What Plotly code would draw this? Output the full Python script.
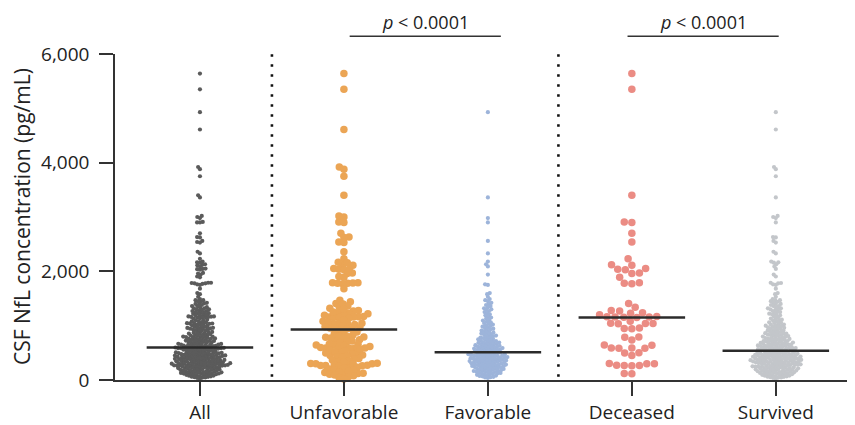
import math
import plotly.graph_objects as go

# ---------------- data (pg/mL) ----------------
categories = ["All", "Unfavorable", "Favorable", "Deceased", "Survived"]
medians = [600, 930, 509, 1150, 540]

# unfavorable outcome, deceased
deceased = [5640, 5350, 3400, 2910, 2900, 2700, 2540,
            2230, 2120, 2110, 2050, 2040, 2030, 1970, 1960, 1890, 1790, 1780, 1770,
            1410, 1340, 1280, 1270, 1240, 1230, 1200,
            1170, 1165, 1160, 1160, 1155, 1150,
            1080, 1045, 1040, 1040, 1035, 955, 950, 945,
            790, 785, 735, 645, 640, 590, 590, 585, 585, 500, 495, 450,
            305, 300, 300, 270, 265, 265, 260, 120, 115]

# unfavorable outcome, survived
unfav_survived = [4610, 3920, 3880, 3750, 3020, 3000, 2630, 2625, 2530, 2360,
                  2165, 2160, 2045, 1905, 1790, 1785, 1780, 1680,
                  1470, 1440, 1400, 1360, 1320, 1300, 1250, 1220, 1190, 1130,
                  1100, 1060, 1020, 1000, 980, 960, 940,
                  912, 884, 861, 853, 828, 815, 797, 772, 766, 741,
                  718, 705, 688, 664, 652, 633, 618, 597, 584, 566,
                  549, 536, 512, 497, 483, 462, 447, 428, 414, 398,
                  386, 367, 355, 341, 326, 309, 294, 281, 263, 248,
                  233, 219, 204, 188, 176, 161, 149, 138, 122, 104,
                  93, 78, 62, 45, 20]

# favorable outcome (all survived)
favorable = [4930, 3360, 2980, 2900, 2560, 2330, 2180, 2130, 2090, 1940,
             1760, 1750, 1600, 1580, 1530,
             1490, 1470, 1450, 1420, 1400, 1380, 1360, 1340, 1320, 1300,
             1290, 1270, 1250, 1230, 1210, 1190, 1170, 1150, 1130, 1110,
             1095, 1080, 1062, 1048, 1035, 1020, 1008, 995, 982, 970,
             958, 945, 933, 920, 910, 898, 887, 875, 866, 855,
             846, 838, 826, 817, 808, 799, 790, 781, 772, 764,
             756, 748, 740, 732, 725, 718, 711, 704, 697, 690,
             684, 677, 671, 665, 659, 653, 647, 641, 636, 630,
             625, 619, 614, 608, 603, 598, 593, 588, 583, 578,
             573, 568, 563, 558, 554, 549, 545, 540, 535, 528, 521, 514,
             507, 503, 498, 496, 491, 487, 482, 476, 474, 468, 463, 461, 457, 452, 451,
             448, 443, 441, 436, 431, 428, 422, 419, 414, 411, 406, 403, 401,
             398, 394, 389, 385, 383, 377, 372, 369, 364, 360, 357, 353, 351,
             348, 344, 341, 336, 332, 328, 325, 319, 316, 311, 308, 304, 301,
             297, 293, 288, 283, 279, 276, 270, 266, 262, 258, 255, 251,
             247, 243, 238, 233, 229, 224, 219, 214, 210, 206, 202,
             196, 191, 187, 181, 176, 172, 166, 161, 157, 152,
             147, 141, 136, 130, 124, 118, 113, 107, 102,
             96, 89, 82, 74, 67, 59, 52, 46, 38]

unfavorable = deceased + unfav_survived
survived = unfav_survived + favorable
all_pts = deceased + unfav_survived + favorable
groups = [all_pts, unfavorable, favorable, deceased, survived]

colors = ["#5b5b5b", "#eba555", "#9db4da", "#eb8c84", "#c3c6ca"]
sizes = [4.2, 7.5, 4.2, 7.5, 4.2]
spacing = [2.85, 5.1, 2.85, 7.6, 2.85]

# ---------------- geometry (page body has an 8px margin) ----------------
W, H = 847, 417
ML, MR, MT, MB = 107, 0, 46, 41
PLOT_W = W - ML - MR
PLOT_H = H - MT - MB
YMAX = 6000
PX_PER_Y = PLOT_H / YMAX
XR = [-0.59, 4.55]
PX_PER_X = PLOT_W / (XR[1] - XR[0])


def xpaper(xv):
    return (xv - XR[0]) / (XR[1] - XR[0])


def swarm(vals, d):
    ys = [v * PX_PER_Y for v in vals]
    order = sorted(range(len(vals)), key=lambda i: ys[i])
    placed = []
    xs = [0.0] * len(vals)
    for i in order:
        y = ys[i]
        nb = [(px, py) for px, py in placed if abs(py - y) < d]
        cands = [0.0]
        for px, py in nb:
            dx = math.sqrt(max(d * d - (py - y) ** 2, 0))
            cands += [px + dx, px - dx]
        cands.sort(key=lambda c: (round(abs(c), 6), c))
        for c in cands:
            if all((c - px) ** 2 + (y - py) ** 2 >= d * d - 1e-6 for px, py in nb):
                xs[i] = c
                break
        placed.append((xs[i], y))
    return [x / PX_PER_X for x in xs]


fig = go.Figure()
for k, vals in enumerate(groups):
    offs = swarm(vals, spacing[k])
    fig.add_trace(go.Scatter(
        x=[k + o for o in offs], y=vals, mode="markers",
        marker=dict(size=sizes[k], color=colors[k], line=dict(width=0)),
        cliponaxis=False, showlegend=False, hoverinfo="y"))

half = 0.37
for k, m in enumerate(medians):
    fig.add_shape(type="line", xref="x", yref="y", x0=k - half, x1=k + half,
                  y0=m, y1=m, line=dict(color="#2b2b2b", width=2.5))

for xv in [0.5, 2.49]:
    fig.add_shape(type="line", xref="x", yref="y", x0=xv, x1=xv, y0=60, y1=6000,
                  line=dict(color="#111111", width=2.6, dash="2.6px,7.4px"))

ybar = 1 + 18 / PLOT_H
ytxt = 1 + 32.5 / PLOT_H
for x0, x1 in [(1.04, 2.09), (2.97, 4.02)]:
    fig.add_shape(type="line", xref="paper", yref="paper",
                  x0=xpaper(x0), x1=xpaper(x1), y0=ybar, y1=ybar,
                  line=dict(color="#333333", width=1.6))
    fig.add_annotation(x=xpaper((x0 + x1) / 2), y=ytxt, xref="paper", yref="paper",
                       text="<i>p</i> < 0.0001", showarrow=False,
                       font=dict(size=18, color="#222222", family="Open Sans"),
                       xanchor="center", yanchor="middle")

fig.add_annotation(x=(14 - ML) / PLOT_W, y=0.5, xref="paper", yref="paper",
                   text="CSF NfL concentration (pg/mL)", textangle=-90, showarrow=False,
                   font=dict(size=21, color="#222222", family="Open Sans"),
                   xanchor="center", yanchor="middle")

fig.update_layout(
    width=W, height=H, margin=dict(l=ML, r=MR, t=MT, b=MB),
    paper_bgcolor="white", plot_bgcolor="white",
    font=dict(family="Open Sans", size=19, color="#222222"),
    xaxis=dict(range=XR, tickvals=list(range(5)), ticktext=categories,
               showline=True, linecolor="#333333", linewidth=1.6,
               ticks="outside", ticklen=14, tickwidth=1.6, tickcolor="#333333",
               showgrid=False, zeroline=False, fixedrange=True),
    yaxis=dict(range=[0, YMAX], tickvals=[0, 2000, 4000, 6000],
               ticktext=["0", "2,000", "4,000", "6,000"],
               showline=True, linecolor="#333333", linewidth=1.6,
               ticks="outside", ticklen=14, tickwidth=1.6, tickcolor="#333333",
               ticklabelstandoff=6,
               showgrid=False, zeroline=False, fixedrange=True),
)

fig.write_html("out.html")
